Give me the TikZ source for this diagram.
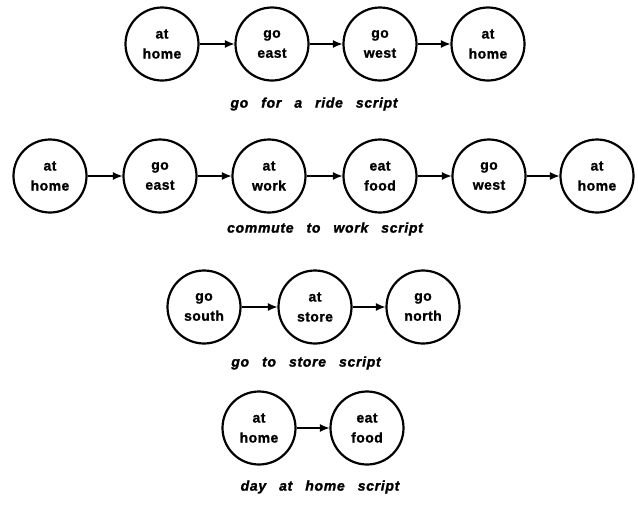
\documentclass[tikz,border=0pt]{standalone}
\usepackage{fontspec}
\setmainfont{Liberation Sans}
\newfontfamily\nodefont[LetterSpace=3,FakeBold=1.2]{Liberation Sans Bold}
\newfontfamily\capfont[LetterSpace=5,FakeBold=1.5]{Liberation Sans Bold Italic}
\usetikzlibrary{arrows.meta}
\tikzset{
  state/.style={circle, draw, line width=2.2pt, minimum size=73pt, inner sep=0pt,
    align=center, font=\nodefont\fontsize{14}{20}\selectfont},
  link/.style={line width=1.8pt, -{Latex[length=10pt,width=8pt]}, shorten >=-0.5pt},
  scriptcap/.style={font=\capfont\fontsize{14}{16}\selectfont,
    execute at begin node={\spaceskip=13pt\relax}}
}
\begin{document}
\begin{tikzpicture}[x=1pt,y=-1pt]
\useasboundingbox (0,0) rectangle (638,507);
% row 1
\node[state] (r1a) at (162,44) {at\\home};
\node[state] (r1b) at (272,44) {go\\east};
\node[state] (r1c) at (380,44) {go\\west};
\node[state] (r1d) at (488,44) {at\\home};
\draw[link] (r1a) -- (r1b);
\draw[link] (r1b) -- (r1c);
\draw[link] (r1c) -- (r1d);
\node[scriptcap] (c1) at (314,104) {go for a ride script};
% row 2
\node[state] (r2a) at (50,176) {at\\home};
\node[state] (r2b) at (160,176) {go\\east};
\node[state] (r2c) at (269,176) {at\\work};
\node[state] (r2d) at (380,176) {eat\\food};
\node[state] (r2e) at (489,176) {go\\west};
\node[state] (r2f) at (597,176) {at\\home};
\draw[link] (r2a) -- (r2b);
\draw[link] (r2b) -- (r2c);
\draw[link] (r2c) -- (r2d);
\draw[link] (r2d) -- (r2e);
\draw[link] (r2e) -- (r2f);
\node[scriptcap] (c2) at (325,229) {commute to work script};
% row 3
\node[state] (r3a) at (204,307) {go\\south};
\node[state] (r3b) at (315,307) {at\\store};
\node[state] (r3c) at (423,307) {go\\north};
\draw[link] (r3a) -- (r3b);
\draw[link] (r3b) -- (r3c);
\node[scriptcap] (c3) at (306,363) {go to store script};
% row 4
\node[state] (r4a) at (259,428) {at\\home};
\node[state] (r4b) at (367,428) {eat\\food};
\draw[link] (r4a) -- (r4b);
\node[scriptcap] (c4) at (320,487) {day at home script};
\end{tikzpicture}
\end{document}
